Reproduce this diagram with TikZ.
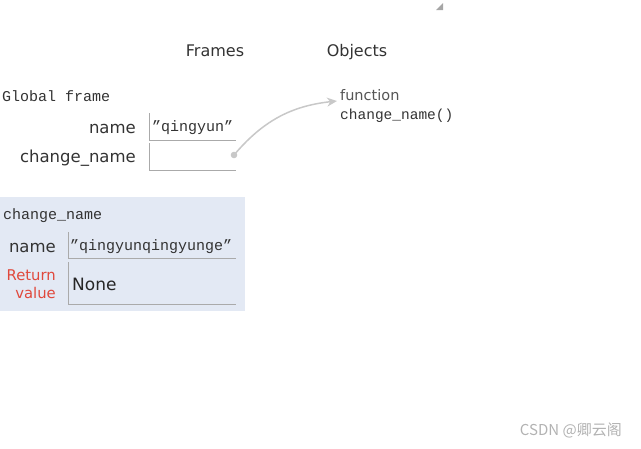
\documentclass[tikz,border=0pt]{standalone}
\usepackage{fontspec}
\setmainfont{DejaVu Sans}
\newfontfamily\monof{Liberation Mono}
\newfontfamily\cjkf{Noto Sans CJK SC}
\usetikzlibrary{arrows.meta}
\definecolor{txt}{HTML}{333333}
\definecolor{funcgray}{HTML}{555555}
\definecolor{retred}{HTML}{E0483C}
\definecolor{framebg}{HTML}{E3E9F4}
\definecolor{boxline}{HTML}{AAAAAA}
\definecolor{arrowgray}{HTML}{C8C8C8}
\begin{document}
\begin{tikzpicture}[x=1pt,y=-1pt,
  hdr/.style={font=\fontsize{16}{18}\selectfont, text=txt, inner sep=0pt, anchor=base},
  lbl/.style={font=\fontsize{16.5}{18}\selectfont, text=txt, inner sep=0pt, anchor=east},
  mono/.style={font=\monof\fontsize{15}{17}\selectfont, text=txt, inner sep=0pt, anchor=west},
  valline/.style={draw=boxline, line width=0.8pt},
]
\useasboundingbox (0,0) rectangle (641,448);
% resize grip
\fill[gray!70] (443,3) -- (443,10) -- (436,10) -- cycle;
% headers
\node[hdr] (frames) at (215,56) {Frames};
\node[hdr] (objects) at (357,56) {Objects};
% global frame
\node[mono] (gf) at (2,96.5) {Global frame};
\node[lbl] (gname) at (136,128.5) {name};
\node[lbl] (gcn) at (136,158.5) {change\_name};
\draw[valline] (149,113) -- (149,140) -- (236,140);
\draw[valline] (149,143) -- (149,170) -- (236,170);
\node[mono] (gval) at (152,127.5) {”qingyun”};
\coordinate (dot) at (234,155);
% object
\node[font=\fontsize{14.5}{17}\selectfont, text=funcgray, inner sep=0pt, anchor=west] (func) at (340,95.5) {function};
\node[mono, font=\monof\fontsize{14.5}{17}\selectfont] (fname) at (340,115.5) {change\_name()};
\coordinate (tgt) at (337,101);
\draw[arrowgray, line width=1.5pt, -{Stealth[length=10pt,width=9pt]}] (dot) .. controls (262,122) and (290,106) .. (tgt);
\fill[arrowgray] (dot) circle (3.3pt);
% stack frame
\fill[framebg] (0,197) rectangle (245,311);
\node[mono] (sf) at (3,215.5) {change\_name};
\node[lbl] (sname) at (56,247.5) {name};
\draw[valline] (68,232) -- (68,258) -- (236,258);
\node[mono] (sval) at (70,246.5) {”qingyunqingyunge”};
\node[lbl, text=retred, align=right, font=\fontsize{14.8}{18}\selectfont] (ret) at (56,284) {Return\\value};
\draw[valline] (68,262) -- (68,304) -- (236,304);
\node[font=\fontsize{17}{20}\selectfont, text=black!85, inner sep=0pt, anchor=west] (none) at (72,284.5) {None};
% watermark
\node[font=\cjkf\fontsize{15}{17}\selectfont, text=gray!60, inner sep=0pt, anchor=east] (wm) at (622,430) {CSDN @卿云阁};
\end{tikzpicture}
\end{document}
